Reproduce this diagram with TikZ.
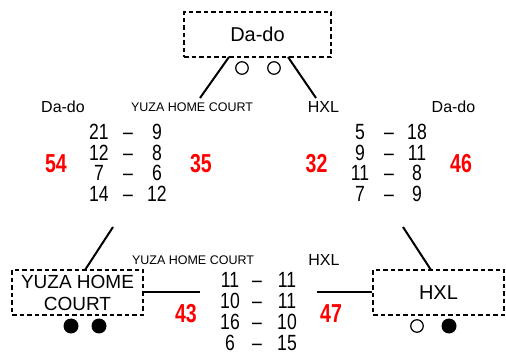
\documentclass[tikz,border=0pt]{standalone}
\usepackage{fontspec}
\setmainfont{Liberation Sans}
\newfontfamily\numfont[FakeStretch=0.8]{Liberation Sans}
\newfontfamily\redfont[FakeStretch=0.75]{Liberation Sans}
\begin{document}
\begin{tikzpicture}[x=1pt,y=-1pt,
  dbox/.style={draw, dash pattern=on 4.5pt off 3pt, line width=2pt, inner sep=0, align=center},
  conn/.style={line width=2pt},
  lbl/.style={inner sep=0, font=\fontsize{16}{19}\selectfont},
  small/.style={inner sep=0, font=\fontsize{12.5}{15}\selectfont},
  sc/.style={inner sep=0, font=\numfont\fontsize{22}{24}\selectfont},
  rednum/.style={inner sep=0, text=red, font=\redfont\bfseries\fontsize{26}{28}\selectfont},
  ocirc/.style={circle, draw, line width=1.2pt, minimum size=12.5pt, inner sep=0},
  fcirc/.style={circle, fill, minimum size=15pt, inner sep=0}]
\useasboundingbox (0,0) rectangle (506,355);

% boxes
\node[dbox, minimum width=147pt, minimum height=45pt, font=\fontsize{20}{22}\selectfont] (topbox) at (257.5,34.5) {Da-do};
\node[dbox, minimum width=131pt, minimum height=45pt, font=\fontsize{19}{22}\selectfont] (ybox) at (77.5,292.5) {YUZA HOME\\COURT};
\node[dbox, minimum width=131pt, minimum height=45pt, font=\fontsize{20}{22}\selectfont] (hbox) at (438.5,292.5) {HXL};

% circles
\node[ocirc] (tc1) at (242,68) {};
\node[ocirc] (tc2) at (274,68) {};
\node[fcirc] (yc1) at (71,326) {};
\node[fcirc] (yc2) at (99,326) {};
\node[ocirc] (hc1) at (417,326) {};
\node[fcirc] (hc2) at (449,326) {};

% connectors
\coordinate (ta) at (229,57);
\coordinate (tb) at (200,98);
\coordinate (tc) at (288,57);
\coordinate (td) at (316,98);
\coordinate (ya) at (85,270);
\coordinate (yb) at (113,227);
\coordinate (ha) at (431,270);
\coordinate (hb) at (403,227);
\coordinate (ye) at (200,292.5);
\coordinate (hw) at (317,292.5);
\draw[conn] (ta) -- (tb);
\draw[conn] (tc) -- (td);
\draw[conn] (ya) -- (yb);
\draw[conn] (ha) -- (hb);
\draw[conn] (ybox.east) -- (ye);
\draw[conn] (hw) -- (hbox.west);

% labels
\node[lbl] (l1) at (63,106.7) {Da-do};
\node[small] (l2) at (192,106.7) {YUZA HOME COURT};
\node[lbl] (l3) at (323.5,106.7) {HXL};
\node[lbl] (l4) at (453.5,106.7) {Da-do};
\node[small] (l5) at (193,259.7) {YUZA HOME COURT};
\node[lbl] (l6) at (324,259.7) {HXL};

% scores
\foreach \a/\b [count=\i] in {21/9,12/8,7/6,14/12}{
  \node[sc] (tla\i) at (99,{131.7+20.8*(\i-1)}) {\a};
  \node[sc] (tld\i) at (128,{131.7+20.8*(\i-1)}) {\vphantom{0}–};
  \node[sc] (tlb\i) at (157,{131.7+20.8*(\i-1)}) {\b};
}
\foreach \a/\b [count=\i] in {5/18,9/11,11/8,7/9}{
  \node[sc] (tra\i) at (360,{131.7+20.8*(\i-1)}) {\a};
  \node[sc] (trd\i) at (389,{131.7+20.8*(\i-1)}) {\vphantom{0}–};
  \node[sc] (trb\i) at (417,{131.7+20.8*(\i-1)}) {\b};
}
\foreach \a/\b [count=\i] in {11/11,10/11,16/10,6/15}{
  \node[sc] (ba\i) at (230,{280.3+20.9*(\i-1)}) {\a};
  \node[sc] (bd\i) at (257,{280.3+20.9*(\i-1)}) {\vphantom{0}–};
  \node[sc] (bb\i) at (287,{280.3+20.9*(\i-1)}) {\b};
}

% totals
\node[rednum] (r1) at (56,164) {54};
\node[rednum] (r2) at (201,164) {35};
\node[rednum] (r3) at (316.5,164) {32};
\node[rednum] (r4) at (461,164) {46};
\node[rednum] (r5) at (186,314) {43};
\node[rednum] (r6) at (331,314) {47};
\end{tikzpicture}
\end{document}
